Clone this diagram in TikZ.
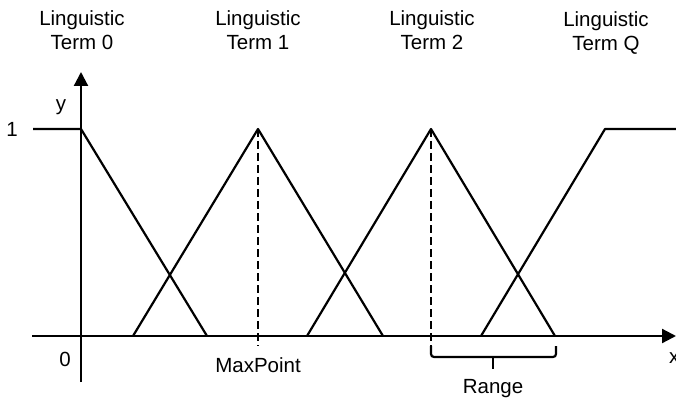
\documentclass[tikz,border=0pt]{standalone}
\usepackage{fontspec}
\setmainfont{Liberation Sans}
\usetikzlibrary{arrows.meta}
\begin{document}
\begin{tikzpicture}[x=1pt,y=-1pt,
  ln/.style={line width=2.2pt},
  dsh/.style={line width=2.2pt,dash pattern=on 8pt off 4pt},
  lbl/.style={font=\fontsize{20.5}{24}\selectfont,inner sep=0pt,align=center},
  arr/.style={ln,-{Triangle[length=14pt,width=14pt]}}]
\useasboundingbox (0,0) rectangle (676,403);
% coordinates
\coordinate (o) at (81,336);
\coordinate (ytop) at (81,72);
\coordinate (ybot) at (81,382);
\coordinate (xl) at (32,336);
\coordinate (xr) at (676,336);
\coordinate (one) at (33,129);
\coordinate (t0top) at (81,129);
\coordinate (t0r) at (207,336);
\coordinate (t1l) at (133,336);
\coordinate (t1a) at (258,129);
\coordinate (t1r) at (383,336);
\coordinate (t1d) at (258,346);
\coordinate (t2l) at (307,336);
\coordinate (t2a) at (431,129);
\coordinate (t2r) at (555,336);
\coordinate (t2d) at (431,346);
\coordinate (tql) at (481,336);
\coordinate (tqa) at (605,129);
\coordinate (tqe) at (676,129);
\coordinate (br1) at (556,346);
\coordinate (bm) at (493,357);
\coordinate (bt) at (493,369);
% axes
\draw[arr] (ybot) -- (ytop);
\draw[arr] (xl) -- (xr);
% membership functions
\draw[ln,line join=round] (one) -- (t0top) -- (t0r);
\draw[ln,line join=round] (t1l) -- (t1a) -- (t1r);
\draw[ln,line join=round] (t2l) -- (t2a) -- (t2r);
\draw[ln,line join=round] (tql) -- (tqa) -- (tqe);
% dashed
\draw[dsh] (t1a) -- (t1d);
\draw[dsh] (t2a) -- (t2d);
% bracket
\draw[ln,rounded corners=3pt] (t2d) |- (bm) -| (br1);
\draw[ln] (bm) -- (bt);
% labels
\node[lbl] (L0) at (82,30) {Linguistic\\Term 0};
\node[lbl] (L1) at (258,30) {Linguistic\\Term 1};
\node[lbl] (L2) at (432,30) {Linguistic\\Term 2};
\node[lbl] (LQ) at (606,33) {Linguistic\\Term Q};
\node[lbl] (ylab) at (61,107) {y};
\node[lbl] (onelab) at (12,129) {1};
\node[lbl] (zero) at (65,359) {0};
\node[lbl] (mp) at (258,365) {MaxPoint};
\node[lbl] (rng) at (493,389) {Range};
\node[lbl,anchor=west] (xlab) at (669,358) {x};
\end{tikzpicture}
\end{document}
